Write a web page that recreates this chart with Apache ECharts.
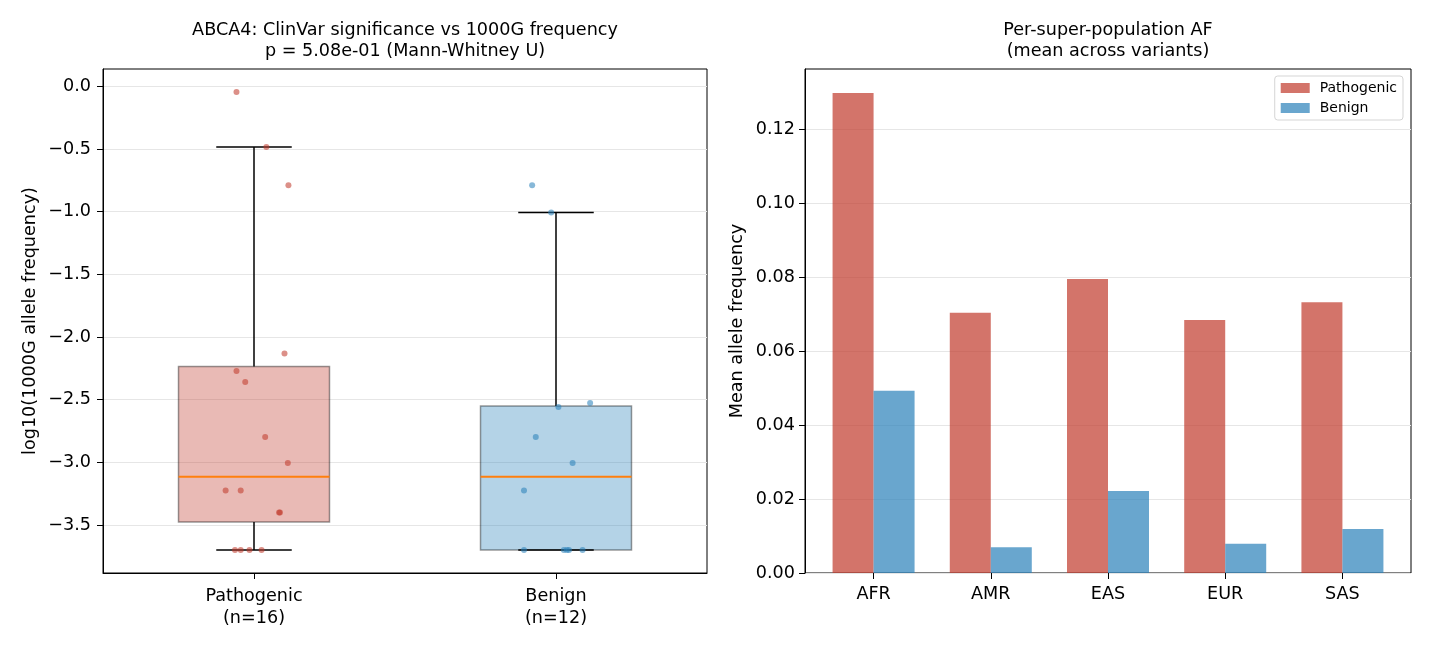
<!DOCTYPE html>
<html>
<head>
<meta charset="utf-8">
<script src="https://cdn.jsdelivr.net/npm/echarts@6/dist/echarts.min.js"></script>
<style>
  html, body { margin: 0; padding: 0; background: #fff; }
  #chart { width: 1430px; height: 650px; }
</style>
</head>
<body>
<div id="chart"></div>
<script>
// ---------- data ----------
const groups = ['Pathogenic', 'Benign'];
const pathoVals = [-0.045, -0.484, -0.79, -2.131, -2.27, -2.358, -2.797, -3.004, -3.224, -3.224, -3.40, -3.40, -3.699, -3.699, -3.699, -3.699];
const pathoJitter = [-0.058, 0.041, 0.114, 0.101, -0.058, -0.029, 0.037, 0.112, -0.094, -0.044, 0.086, 0.083, -0.063, -0.044, -0.015, 0.025];
const benignVals = [-0.79, -1.007, -2.525, -2.557, -2.797, -3.004, -3.224, -3.699, -3.699, -3.699, -3.699, -3.699];
const benignJitter = [-0.079, -0.016, 0.113, 0.008, -0.067, 0.055, -0.106, -0.106, 0.026, 0.036, 0.043, 0.088];

const pops = ['AFR', 'AMR', 'EAS', 'EUR', 'SAS'];
const pathoAF = [0.1299, 0.0704, 0.0796, 0.0685, 0.0733];
const benignAF = [0.0493, 0.0070, 0.0222, 0.0079, 0.0119];

const leftYTicks = [0, -0.5, -1.0, -1.5, -2.0, -2.5, -3.0, -3.5];
const rightYTicks = [0, 0.02, 0.04, 0.06, 0.08, 0.10, 0.12];

// ---------- helpers ----------
function quantile(sorted, q) {
  const pos = (sorted.length - 1) * q;
  const lo = Math.floor(pos), hi = Math.ceil(pos);
  return sorted[lo] + (sorted[hi] - sorted[lo]) * (pos - lo);
}
function boxStats(vals) {
  const s = vals.slice().sort((a, b) => a - b);
  const q1 = quantile(s, 0.25), med = quantile(s, 0.5), q3 = quantile(s, 0.75);
  const iqr = q3 - q1;
  const lo = Math.min(...s.filter(v => v >= q1 - 1.5 * iqr));
  const hi = Math.max(...s.filter(v => v <= q3 + 1.5 * iqr));
  return [lo, q1, med, q3, hi];
}

const RED = 'rgba(192,57,43,0.7)';
const BLUE = 'rgba(41,128,185,0.7)';
const RED_FILL = 'rgba(192,57,43,0.35)';
const BLUE_FILL = 'rgba(41,128,185,0.35)';
const FONT = 'DejaVu Sans';
const FS = 17.6;
const minus = v => String(v).replace('-', '\u2212');

const allVals = pathoVals.concat(benignVals);
const dMin = Math.min(...allVals), dMax = Math.max(...allVals);
const pad = (dMax - dMin) * 0.05;

const boxData = [
  [1].concat(boxStats(pathoVals)),
  [2].concat(boxStats(benignVals))
];
const boxFills = [RED_FILL, BLUE_FILL];

function renderBox(params, api) {
  const x = api.value(0);
  const lo = api.value(1), q1 = api.value(2), med = api.value(3), q3 = api.value(4), hi = api.value(5);
  const hw = 0.25, cw = 0.125;
  const p = (a, b) => api.coord([a, b]);
  const tl = p(x - hw, q3), br = p(x + hw, q1);
  const line = (a, b, color, w) => ({
    type: 'line',
    shape: { x1: a[0], y1: a[1], x2: b[0], y2: b[1] },
    style: { stroke: color, lineWidth: w }
  });
  return {
    type: 'group',
    children: [
      { type: 'rect', shape: { x: tl[0], y: tl[1], width: br[0] - tl[0], height: br[1] - tl[1] },
        style: { fill: boxFills[params.dataIndex], stroke: 'rgba(0,0,0,0.4)', lineWidth: 1.5 } },
      line(p(x, q1), p(x, lo), '#000', 1.5),
      line(p(x, q3), p(x, hi), '#000', 1.5),
      line(p(x - cw, lo), p(x + cw, lo), '#000', 1.5),
      line(p(x - cw, hi), p(x + cw, hi), '#000', 1.5),
      line(p(x - hw, med), p(x + hw, med), '#ff7f0e', 1.8)
    ]
  };
}

const axisBase = {
  axisLine: { show: true, onZero: false, lineStyle: { color: '#000', width: 1 } },
  axisTick: { show: true, inside: false, length: 6, lineStyle: { color: '#000', width: 1 } },
  axisLabel: { color: '#000', fontFamily: FONT, fontSize: FS }
};

const chart = echarts.init(document.getElementById('chart'), null, { renderer: 'canvas' });
chart.setOption({
  animation: false,
  backgroundColor: '#fff',
  textStyle: { fontFamily: FONT },
  title: [
    { text: 'ABCA4: ClinVar significance vs 1000G frequency\np = 5.08e-01 (Mann-Whitney U)',
      left: 405, top: 20, textAlign: 'center', padding: 0,
      textStyle: { fontFamily: FONT, fontSize: FS, fontWeight: 'normal', color: '#000', lineHeight: 21 } },
    { text: 'Per-super-population AF\n(mean across variants)',
      left: 1108, top: 20, textAlign: 'center', padding: 0,
      textStyle: { fontFamily: FONT, fontSize: FS, fontWeight: 'normal', color: '#000', lineHeight: 21 } }
  ],
  legend: {
    data: ['Pathogenic', 'Benign'],
    orient: 'vertical', right: 27, top: 76,
    icon: 'rect', itemWidth: 29, itemHeight: 10, itemGap: 6,
    padding: [5, 6, 5, 6],
    borderColor: '#d5d5d5', borderWidth: 1, borderRadius: 3,
    backgroundColor: 'rgba(255,255,255,0.8)',
    textStyle: { fontFamily: FONT, fontSize: 14, color: '#000', padding: [0, 0, 0, 5] }
  },
  grid: [
    { left: 103, right: 723, top: 69, bottom: 77, show: true, borderColor: '#000', borderWidth: 1, backgroundColor: 'transparent' },
    { left: 805, right: 19, top: 69, bottom: 77, show: true, borderColor: '#000', borderWidth: 1, backgroundColor: 'transparent' },
    { left: 815, right: 29, top: 69, bottom: 77, show: false }
  ],
  xAxis: [
    Object.assign({}, axisBase, {
      type: 'category', gridIndex: 0, position: 'bottom',
      data: [groups[0] + '\n(n=' + pathoVals.length + ')', groups[1] + '\n(n=' + benignVals.length + ')'],
      boundaryGap: true,
      axisTick: Object.assign({}, axisBase.axisTick, { alignWithLabel: true }),
      axisLabel: Object.assign({}, axisBase.axisLabel, { margin: 12, lineHeight: 22 }),
      splitLine: { show: false }
    }),
    { type: 'value', gridIndex: 0, min: 0.5, max: 2.5, show: false },
    { type: 'value', gridIndex: 1, min: -0.585, max: 4.585, show: false },
    Object.assign({}, axisBase, {
      type: 'category', gridIndex: 2, position: 'bottom', data: pops, boundaryGap: true,
      axisLine: { show: false, onZero: false },
      axisTick: Object.assign({}, axisBase.axisTick, { alignWithLabel: true }),
      axisLabel: Object.assign({}, axisBase.axisLabel, { margin: 12 }),
      splitLine: { show: false }
    })
  ],
  yAxis: [
    Object.assign({}, axisBase, {
      type: 'value', gridIndex: 0, position: 'left',
      min: +(dMin - pad).toFixed(4), max: +(dMax + pad).toFixed(4),
      splitNumber: 8, minInterval: 0.5, maxInterval: 0.5,
      axisTick: Object.assign({}, axisBase.axisTick, { customValues: leftYTicks }),
      axisLabel: Object.assign({}, axisBase.axisLabel, { margin: 12, customValues: leftYTicks,
        formatter: v => minus(v.toFixed(1)) }),
      splitLine: { show: true, lineStyle: { color: '#e6e6e6', width: 1 } },
      name: 'log10(1000G allele frequency)', nameLocation: 'middle', nameGap: 64,
      nameTextStyle: { fontFamily: FONT, fontSize: FS, color: '#000' }
    }),
    Object.assign({}, axisBase, {
      type: 'value', gridIndex: 1, position: 'left',
      min: 0, max: +(Math.max(...pathoAF, ...benignAF) * 1.05).toFixed(4),
      interval: 0.02,
      axisTick: Object.assign({}, axisBase.axisTick, { customValues: rightYTicks }),
      axisLabel: Object.assign({}, axisBase.axisLabel, { margin: 10, customValues: rightYTicks,
        formatter: v => v.toFixed(2) }),
      splitLine: { show: true, lineStyle: { color: '#e6e6e6', width: 1 } },
      name: 'Mean allele frequency', nameLocation: 'middle', nameGap: 59,
      nameTextStyle: { fontFamily: FONT, fontSize: FS, color: '#000' }
    }),
    { type: 'value', gridIndex: 2, show: false }
  ],
  series: [
    { type: 'custom', name: 'boxes', xAxisIndex: 1, yAxisIndex: 0, renderItem: renderBox,
      data: boxData, z: 2, silent: true },
    { type: 'scatter', name: 'Pathogenic points', xAxisIndex: 1, yAxisIndex: 0,
      data: pathoVals.map((v, i) => [1 + pathoJitter[i], v]),
      symbolSize: 6, itemStyle: { color: RED }, z: 5 },
    { type: 'scatter', name: 'Benign points', xAxisIndex: 1, yAxisIndex: 0,
      data: benignVals.map((v, i) => [2 + benignJitter[i], v]),
      symbolSize: 6, itemStyle: { color: BLUE }, z: 5 },
    { type: 'bar', name: 'Pathogenic', xAxisIndex: 2, yAxisIndex: 1,
      data: pathoAF.map((v, i) => [i, v]), barWidth: 41, barGap: '0%',
      itemStyle: { color: RED } },
    { type: 'bar', name: 'Benign', xAxisIndex: 2, yAxisIndex: 1,
      data: benignAF.map((v, i) => [i, v]), barWidth: 41, barGap: '0%',
      itemStyle: { color: BLUE } }
  ]
});
</script>
</body>
</html>
